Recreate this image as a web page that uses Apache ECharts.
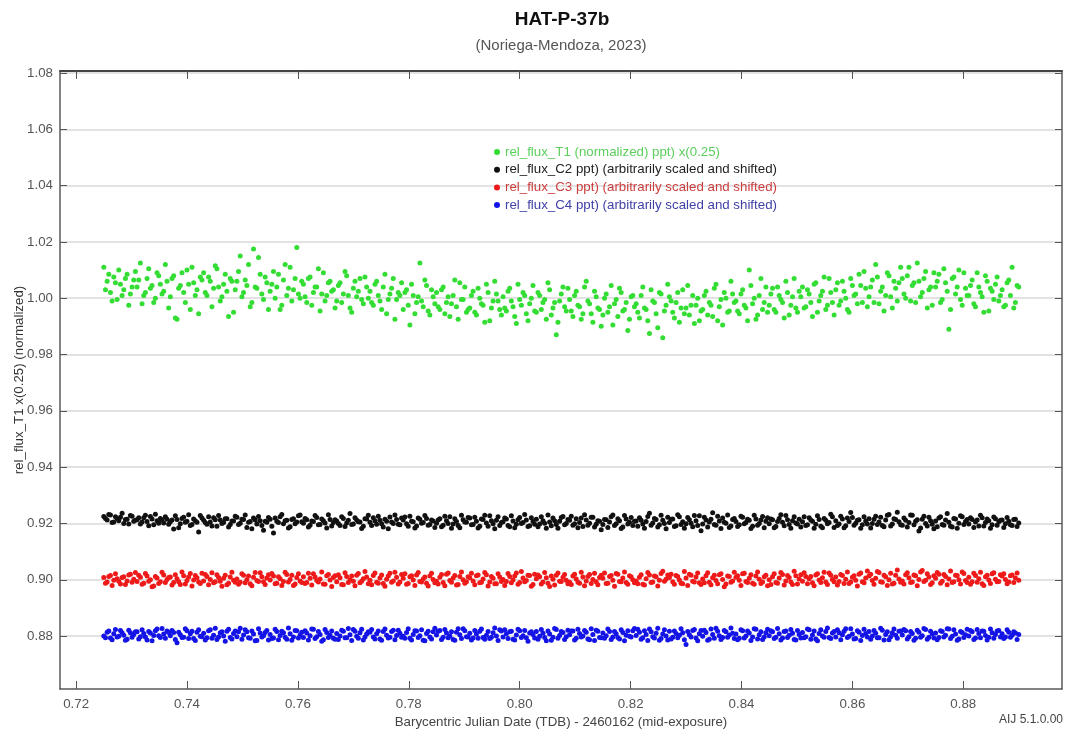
<!DOCTYPE html>
<html><head><meta charset="utf-8">
<script src="https://cdn.jsdelivr.net/npm/echarts@6/dist/echarts.min.js"></script>
<style>html,body{margin:0;padding:0;background:#fff}#c{width:1065px;height:738px}</style>
</head><body><div id="c"></div>
<script>
// Barycentric Julian Date (TDB) - 2460162, exposures of first read-out block
const bjdTimesA = [
0.7250,0.7256,0.7262,0.7268,0.7274,0.7280,0.7286,0.7292,0.7298,0.7304,
0.7310,0.7316,0.7322,0.7328,0.7334,0.7340,0.7346,0.7352,0.7358,0.7364,
0.7370,0.7376,0.7382,0.7388,0.7394,0.7400,0.7406,0.7412,0.7418,0.7424,
0.7430,0.7436,0.7442,0.7448,0.7454,0.7460,0.7466,0.7472,0.7478,0.7484,
0.7490,0.7496,0.7502,0.7508,0.7514,0.7520,0.7526,0.7532,0.7538,0.7544,
0.7550,0.7556,0.7562,0.7568,0.7574,0.7580,0.7586,0.7592,0.7598,0.7604,
0.7610,0.7616,0.7622,0.7628,0.7634,0.7640,0.7646,0.7652,0.7658,0.7664,
0.7670,0.7676,0.7682,0.7688,0.7694,0.7700,0.7706,0.7712,0.7718,0.7724,
0.7730,0.7736,0.7742,0.7748,0.7754,0.7760,0.7766,0.7772,0.7778,0.7784,
0.7790,0.7796,0.7802,0.7808,0.7814,0.7820,0.7826,0.7832,0.7838,0.7844,
0.7850,0.7856,0.7862,0.7868,0.7874,0.7880,0.7886,0.7892,0.7898,0.7904,
0.7910,0.7916,0.7922,0.7928,0.7934,0.7940,0.7946,0.7952,0.7958,0.7964,
0.7970,0.7976,0.7982,0.7988,0.7994,0.8000,0.8006,0.8012,0.8018,0.8024,
0.8030,0.8036,0.8042,0.8048,0.8054,0.8060,0.8066,0.8072,0.8078,0.8084,
0.8090,0.8096,0.8102,0.8108,0.8114,0.8120,0.8126,0.8132,0.8138,0.8144,
0.8150,0.8156,0.8162,0.8168,0.8174,0.8180,0.8186,0.8192,0.8198,0.8204,
0.8210,0.8216,0.8222,0.8228,0.8234,0.8240,0.8246,0.8252,0.8258,0.8264,
0.8270,0.8276,0.8282,0.8288,0.8294,0.8300,0.8306,0.8312,0.8318,0.8324,
0.8330,0.8336,0.8342,0.8348,0.8354,0.8360,0.8366,0.8372,0.8378,0.8384,
0.8390,0.8396,0.8402,0.8408,0.8414,0.8420,0.8426,0.8432,0.8438,0.8444,
0.8450,0.8456,0.8462,0.8468,0.8474,0.8480,0.8486,0.8492,0.8498,0.8504,
0.8510,0.8516,0.8522,0.8528,0.8534,0.8540,0.8546,0.8552,0.8558,0.8564,
0.8570,0.8576,0.8582,0.8588,0.8594,0.8600,0.8606,0.8612,0.8618,0.8624,
0.8630,0.8636,0.8642,0.8648,0.8654,0.8660,0.8666,0.8672,0.8678,0.8684,
0.8690,0.8696,0.8702,0.8708,0.8714,0.8720,0.8726,0.8732,0.8738,0.8744,
0.8750,0.8756,0.8762,0.8768,0.8774,0.8780,0.8786,0.8792,0.8798,0.8804,
0.8810,0.8816,0.8822,0.8828,0.8834,0.8840,0.8846,0.8852,0.8858,0.8864,
0.8870,0.8876,0.8882,0.8888,0.8894,0.8900
];
// interleaved exposures
const bjdTimesB = [
0.7253,0.7259,0.7265,0.7271,0.7277,0.7283,0.7289,0.7295,0.7301,0.7307,
0.7313,0.7319,0.7325,0.7331,0.7337,0.7343,0.7349,0.7355,0.7361,0.7367,
0.7373,0.7379,0.7385,0.7391,0.7397,0.7403,0.7409,0.7415,0.7421,0.7427,
0.7433,0.7439,0.7445,0.7451,0.7457,0.7463,0.7469,0.7475,0.7481,0.7487,
0.7493,0.7499,0.7505,0.7511,0.7517,0.7523,0.7529,0.7535,0.7541,0.7547,
0.7553,0.7559,0.7565,0.7571,0.7577,0.7583,0.7589,0.7595,0.7601,0.7607,
0.7613,0.7619,0.7625,0.7631,0.7637,0.7643,0.7649,0.7655,0.7661,0.7667,
0.7673,0.7679,0.7685,0.7691,0.7697,0.7703,0.7709,0.7715,0.7721,0.7727,
0.7733,0.7739,0.7745,0.7751,0.7757,0.7763,0.7769,0.7775,0.7781,0.7787,
0.7793,0.7799,0.7805,0.7811,0.7817,0.7823,0.7829,0.7835,0.7841,0.7847,
0.7853,0.7859,0.7865,0.7871,0.7877,0.7883,0.7889,0.7895,0.7901,0.7907,
0.7913,0.7919,0.7925,0.7931,0.7937,0.7943,0.7949,0.7955,0.7961,0.7967,
0.7973,0.7979,0.7985,0.7991,0.7997,0.8003,0.8009,0.8015,0.8021,0.8027,
0.8033,0.8039,0.8045,0.8051,0.8057,0.8063,0.8069,0.8075,0.8081,0.8087,
0.8093,0.8099,0.8105,0.8111,0.8117,0.8123,0.8129,0.8135,0.8141,0.8147,
0.8153,0.8159,0.8165,0.8171,0.8177,0.8183,0.8189,0.8195,0.8201,0.8207,
0.8213,0.8219,0.8225,0.8231,0.8237,0.8243,0.8249,0.8255,0.8261,0.8267,
0.8273,0.8279,0.8285,0.8291,0.8297,0.8303,0.8309,0.8315,0.8321,0.8327,
0.8333,0.8339,0.8345,0.8351,0.8357,0.8363,0.8369,0.8375,0.8381,0.8387,
0.8393,0.8399,0.8405,0.8411,0.8417,0.8423,0.8429,0.8435,0.8441,0.8447,
0.8453,0.8459,0.8465,0.8471,0.8477,0.8483,0.8489,0.8495,0.8501,0.8507,
0.8513,0.8519,0.8525,0.8531,0.8537,0.8543,0.8549,0.8555,0.8561,0.8567,
0.8573,0.8579,0.8585,0.8591,0.8597,0.8603,0.8609,0.8615,0.8621,0.8627,
0.8633,0.8639,0.8645,0.8651,0.8657,0.8663,0.8669,0.8675,0.8681,0.8687,
0.8693,0.8699,0.8705,0.8711,0.8717,0.8723,0.8729,0.8735,0.8741,0.8747,
0.8753,0.8759,0.8765,0.8771,0.8777,0.8783,0.8789,0.8795,0.8801,0.8807,
0.8813,0.8819,0.8825,0.8831,0.8837,0.8843,0.8849,0.8855,0.8861,0.8867,
0.8873,0.8879,0.8885,0.8891,0.8897
];

// rel_flux_T1 (normalized) x(0.25)
const fluxT1A = [
1.0110,1.0060,1.0020,1.0075,0.9995,1.0050,1.0030,1.0085,1.0015,1.0065,
1.0040,1.0125,1.0010,1.0070,1.0035,0.9985,1.0090,1.0050,1.0025,1.0060,
1.0005,1.0080,0.9925,1.0045,1.0020,1.0100,0.9960,1.0055,1.0030,1.0075,
1.0090,1.0010,1.0060,1.0035,1.0105,0.9990,1.0050,1.0025,1.0070,0.9950,
1.0060,1.0150,1.0020,1.0045,0.9970,1.0175,1.0035,1.0085,0.9995,1.0055,
1.0025,1.0095,1.0040,0.9960,1.0065,1.0010,1.0110,1.0030,1.0180,1.0000,
1.0050,0.9985,1.0075,1.0020,1.0040,0.9955,1.0090,1.0010,1.0060,1.0030,
0.9990,1.0055,1.0015,1.0080,0.9965,1.0035,1.0005,1.0070,0.9980,1.0040,
1.0025,0.9975,1.0060,0.9990,1.0040,0.9945,1.0015,1.0070,0.9995,1.0010,
0.9960,1.0030,0.9905,1.0010,0.9985,1.0125,0.9970,1.0045,0.9940,1.0005,
1.0020,0.9960,1.0040,0.9985,0.9935,1.0010,0.9970,1.0055,0.9995,0.9950,
0.9965,1.0025,0.9940,1.0000,0.9975,1.0050,0.9920,0.9990,1.0015,0.9960,
1.0005,0.9955,1.0035,0.9970,0.9910,0.9995,1.0020,0.9945,0.9980,1.0045,
0.9950,1.0010,0.9985,0.9925,1.0030,0.9965,0.9870,0.9990,1.0040,0.9955,
0.9995,0.9935,1.0025,0.9970,0.9945,1.0060,0.9980,0.9915,1.0005,0.9960,
0.9940,1.0015,0.9970,0.9905,0.9995,1.0035,0.9955,0.9985,0.9925,1.0010,
0.9980,0.9930,1.0040,0.9960,0.9875,0.9990,0.9945,1.0020,0.9860,0.9975,
1.0005,0.9950,0.9985,0.9915,1.0030,0.9965,0.9940,1.0010,0.9975,0.9920,
0.9960,1.0025,0.9985,0.9935,1.0050,0.9970,0.9905,1.0000,0.9955,1.0015,
0.9990,0.9945,1.0030,0.9965,1.0100,0.9980,0.9925,1.0010,0.9960,1.0040,
0.9975,1.0035,0.9950,1.0010,0.9985,1.0060,0.9940,1.0005,0.9965,1.0025,
1.0040,0.9970,1.0015,0.9935,1.0055,0.9990,1.0025,0.9960,1.0070,0.9985,
1.0030,0.9975,1.0060,1.0000,0.9950,1.0045,1.0015,1.0085,0.9985,1.0035,
1.0005,1.0065,1.0120,0.9980,1.0040,1.0010,1.0080,0.9965,1.0035,1.0055,
1.0070,1.0000,1.0110,1.0045,0.9985,1.0060,1.0020,1.0095,1.0030,0.9975,
1.0040,1.0085,0.9995,1.0055,0.9890,1.0070,1.0015,1.0100,0.9975,1.0035,
1.0010,1.0065,0.9970,1.0040,1.0005,1.0080,0.9955,1.0025,1.0050,0.9990,
1.0030,0.9975,1.0065,1.0110,0.9985,1.0040
];
const fluxT1B = [
1.0030,1.0085,0.9990,1.0055,1.0100,1.0010,1.0070,0.9975,1.0040,1.0095,
1.0065,0.9980,1.0020,1.0105,1.0045,1.0000,1.0080,1.0015,1.0120,0.9965,
1.0070,0.9930,1.0035,1.0090,0.9985,1.0050,1.0110,1.0010,0.9945,1.0065,
1.0020,1.0075,0.9970,1.0115,1.0040,1.0005,1.0085,0.9935,1.0060,1.0030,
1.0095,1.0005,1.0065,1.0120,0.9985,1.0040,1.0145,1.0015,1.0075,0.9960,
1.0050,1.0000,1.0085,0.9975,1.0120,1.0035,0.9990,1.0070,1.0015,1.0060,
1.0005,1.0070,0.9975,1.0040,1.0105,1.0015,0.9990,1.0055,1.0025,0.9965,
1.0045,0.9985,1.0095,1.0010,0.9950,1.0060,1.0025,0.9995,1.0075,1.0000,
0.9985,1.0050,1.0010,0.9960,1.0085,0.9995,1.0035,0.9925,1.0020,1.0055,
1.0020,0.9975,1.0050,0.9945,1.0005,0.9990,1.0065,0.9955,1.0030,0.9980,
0.9970,1.0030,0.9945,1.0005,0.9980,1.0065,0.9925,0.9995,1.0040,0.9960,
1.0010,0.9950,1.0035,0.9980,0.9915,1.0020,0.9965,1.0060,0.9990,0.9940,
0.9965,1.0025,0.9990,0.9935,1.0050,0.9975,1.0010,0.9920,1.0000,0.9955,
1.0020,0.9960,0.9995,1.0055,0.9940,0.9985,0.9915,1.0015,0.9970,1.0035,
0.9955,1.0010,0.9975,0.9925,1.0040,0.9990,0.9945,1.0025,0.9965,0.9900,
1.0000,0.9950,1.0045,0.9980,0.9935,1.0020,0.9960,0.9885,1.0005,0.9970,
0.9950,1.0010,0.9965,0.9920,1.0030,0.9985,0.9895,1.0015,0.9955,1.0050,
0.9990,0.9930,1.0020,0.9965,0.9945,1.0045,0.9975,0.9910,1.0000,0.9955,
1.0010,0.9940,0.9975,1.0035,0.9920,0.9995,1.0020,0.9950,1.0060,0.9985,
0.9955,1.0015,0.9975,0.9920,1.0045,1.0000,0.9940,1.0070,0.9985,0.9950,
1.0015,0.9960,1.0040,0.9995,0.9930,1.0020,0.9975,1.0070,0.9950,1.0005,
0.9965,1.0030,0.9985,1.0050,0.9950,1.0010,1.0075,0.9975,1.0020,0.9940,
1.0055,0.9990,1.0025,0.9960,1.0070,1.0010,0.9980,1.0045,1.0095,0.9970,
1.0040,0.9985,1.0075,1.0025,0.9955,1.0090,1.0005,1.0060,0.9990,1.0110,
1.0015,1.0080,0.9990,1.0055,1.0125,1.0005,1.0070,0.9965,1.0040,1.0090,
1.0060,0.9985,1.0105,1.0025,0.9960,1.0075,1.0040,0.9995,1.0090,1.0010,
1.0045,0.9980,1.0090,1.0020,0.9950,1.0060,1.0035,0.9995,1.0075,1.0010,
0.9970,1.0055,1.0010,0.9965,1.0045
];

// rel_flux_C2 ppt (arbitrarily scaled and shifted)
const fluxC2A = [
0.9225,0.9212,0.9230,0.9205,0.9218,0.9222,0.9200,0.9215,0.9228,0.9208,
0.9213,0.9198,0.9220,0.9207,0.9225,0.9195,0.9210,0.9218,0.9202,0.9215,
0.9206,0.9180,0.9214,0.9199,0.9222,0.9208,0.9193,0.9216,0.9204,0.9228,
0.9211,0.9197,0.9205,0.9220,0.9190,0.9212,0.9203,0.9217,0.9196,0.9209,
0.9222,0.9201,0.9214,0.9186,0.9207,0.9219,0.9198,0.9210,0.9176,0.9204,
0.9215,0.9166,0.9208,0.9224,0.9199,0.9211,0.9188,0.9217,0.9205,0.9230,
0.9201,0.9213,0.9194,0.9207,0.9221,0.9196,0.9210,0.9184,0.9214,0.9203,
0.9209,0.9193,0.9218,0.9202,0.9235,0.9198,0.9212,0.9205,0.9190,0.9216,
0.9204,0.9220,0.9197,0.9211,0.9187,0.9208,0.9223,0.9200,0.9214,0.9195,
0.9212,0.9199,0.9226,0.9206,0.9191,0.9215,0.9203,0.9218,0.9196,0.9209,
0.9201,0.9217,0.9194,0.9210,0.9224,0.9198,0.9207,0.9185,0.9213,0.9204,
0.9219,0.9196,0.9208,0.9190,0.9214,0.9202,0.9227,0.9199,0.9211,0.9193,
0.9206,0.9216,0.9188,0.9209,0.9197,0.9221,0.9203,0.9212,0.9192,0.9207,
0.9215,0.9198,0.9210,0.9183,0.9205,0.9219,0.9196,0.9208,0.9225,0.9200,
0.9211,0.9194,0.9217,0.9203,0.9189,0.9212,0.9201,0.9222,0.9197,0.9208,
0.9196,0.9213,0.9205,0.9230,0.9199,0.9210,0.9187,0.9216,0.9204,0.9193,
0.9209,0.9220,0.9198,0.9207,0.9236,0.9202,0.9214,0.9195,0.9211,0.9181,
0.9203,0.9216,0.9192,0.9224,0.9206,0.9199,0.9213,0.9188,0.9210,0.9227,
0.9198,0.9212,0.9205,0.9238,0.9194,0.9209,0.9219,0.9201,0.9186,0.9214,
0.9207,0.9195,0.9222,0.9203,0.9211,0.9190,0.9216,0.9200,0.9225,0.9208,
0.9199,0.9213,0.9189,0.9218,0.9204,0.9228,0.9196,0.9210,0.9202,0.9215,
0.9206,0.9193,0.9220,0.9208,0.9197,0.9214,0.9185,0.9211,0.9203,0.9224,
0.9210,0.9198,0.9216,0.9192,0.9207,0.9221,0.9201,0.9213,0.9195,0.9209,
0.9217,0.9200,0.9226,0.9205,0.9193,0.9212,0.9232,0.9198,0.9214,0.9206,
0.9194,0.9211,0.9203,0.9229,0.9208,0.9173,0.9215,0.9200,0.9222,0.9197,
0.9209,0.9219,0.9196,0.9212,0.9204,0.9187,0.9216,0.9201,0.9224,0.9207,
0.9198,0.9214,0.9205,0.9191,0.9220,0.9203,0.9210,0.9195,0.9217,0.9206,
0.9212,0.9199,0.9208,0.9193,0.9215,0.9202
];
const fluxC2B = [
0.9218,0.9232,0.9203,0.9224,0.9210,0.9236,0.9214,0.9198,0.9226,0.9211,
0.9220,0.9205,0.9229,0.9192,0.9216,0.9233,0.9201,0.9212,0.9224,0.9197,
0.9212,0.9227,0.9185,0.9218,0.9204,0.9231,0.9196,0.9210,0.9170,0.9219,
0.9203,0.9224,0.9191,0.9213,0.9228,0.9200,0.9217,0.9187,0.9209,0.9226,
0.9196,0.9215,0.9230,0.9204,0.9181,0.9212,0.9225,0.9193,0.9208,0.9221,
0.9190,0.9219,0.9203,0.9232,0.9210,0.9184,0.9214,0.9199,0.9227,0.9206,
0.9218,0.9187,0.9209,0.9228,0.9195,0.9216,0.9202,0.9231,0.9191,0.9213,
0.9200,0.9224,0.9189,0.9211,0.9196,0.9220,0.9206,0.9182,0.9217,0.9229,
0.9193,0.9210,0.9226,0.9199,0.9215,0.9181,0.9205,0.9230,0.9197,0.9219,
0.9223,0.9190,0.9208,0.9184,0.9219,0.9201,0.9228,0.9194,0.9212,0.9186,
0.9212,0.9188,0.9226,0.9200,0.9183,0.9217,0.9193,0.9229,0.9205,0.9221,
0.9195,0.9222,0.9184,0.9216,0.9229,0.9190,0.9210,0.9181,0.9224,0.9203,
0.9219,0.9193,0.9227,0.9185,0.9213,0.9200,0.9232,0.9189,0.9220,0.9197,
0.9188,0.9224,0.9201,0.9230,0.9192,0.9210,0.9183,0.9221,0.9195,0.9214,
0.9226,0.9199,0.9185,0.9219,0.9231,0.9194,0.9222,0.9187,0.9210,0.9178,
0.9214,0.9186,0.9224,0.9193,0.9217,0.9182,0.9228,0.9198,0.9221,0.9208,
0.9190,0.9211,0.9183,0.9225,0.9194,0.9218,0.9187,0.9229,0.9200,0.9222,
0.9215,0.9189,0.9231,0.9196,0.9183,0.9221,0.9201,0.9228,0.9193,0.9174,
0.9222,0.9187,0.9215,0.9196,0.9226,0.9182,0.9204,0.9230,0.9191,0.9218,
0.9189,0.9226,0.9199,0.9215,0.9182,0.9229,0.9194,0.9212,0.9185,0.9220,
0.9216,0.9185,0.9207,0.9231,0.9192,0.9213,0.9183,0.9224,0.9198,0.9187,
0.9224,0.9195,0.9212,0.9183,0.9227,0.9190,0.9218,0.9199,0.9233,0.9186,
0.9193,0.9226,0.9185,0.9219,0.9239,0.9194,0.9211,0.9183,0.9224,0.9198,
0.9184,0.9215,0.9196,0.9222,0.9188,0.9229,0.9191,0.9217,0.9240,0.9195,
0.9219,0.9187,0.9230,0.9195,0.9213,0.9184,0.9226,0.9191,0.9210,0.9181,
0.9188,0.9224,0.9194,0.9235,0.9190,0.9218,0.9183,0.9227,0.9196,0.9214,
0.9220,0.9186,0.9212,0.9229,0.9191,0.9216,0.9183,0.9223,0.9194,0.9211,
0.9186,0.9221,0.9195,0.9214,0.9189
];

// rel_flux_C3 ppt (arbitrarily scaled and shifted)
const fluxC3A = [
0.9008,0.8992,0.9015,0.8998,0.9004,0.8985,0.9011,0.8996,0.9020,0.9002,
0.8994,0.9009,0.8988,0.9013,0.9000,0.8978,0.9006,0.8993,0.9017,0.9001,
0.9010,0.8990,0.9004,0.8983,0.9014,0.8997,0.9022,0.8999,0.9007,0.8987,
0.8996,0.9012,0.9001,0.8989,0.9018,0.8995,0.9005,0.8982,0.9010,0.8998,
0.9003,0.8991,0.9016,0.9000,0.8986,0.9009,0.8997,0.9025,0.8993,0.9006,
0.8999,0.9013,0.8988,0.9004,0.8994,0.9019,0.9001,0.8980,0.9008,0.8996,
0.9011,0.8990,0.9005,0.9021,0.8997,0.9003,0.8985,0.9014,0.8999,0.9008,
0.8993,0.9007,0.8982,0.9012,0.9000,0.8995,0.9016,0.8989,0.9004,0.9010,
0.8998,0.9015,0.8991,0.9006,0.8987,0.9002,0.9023,0.8996,0.9009,0.8992,
0.9005,0.8984,0.9011,0.8999,0.9017,0.8994,0.9003,0.8988,0.9013,0.9001,
0.8995,0.9009,0.8990,0.9020,0.8997,0.9006,0.8981,0.9012,0.9000,0.8993,
0.9007,0.8996,0.9014,0.8989,0.9003,0.9018,0.8992,0.9005,0.8986,0.9010,
0.9001,0.8994,0.9012,0.8999,0.9024,0.8990,0.9006,0.8997,0.9015,0.8983,
0.9004,0.9011,0.8992,0.9007,0.8976,0.9002,0.9016,0.8995,0.9009,0.8998,
0.8991,0.9013,0.9003,0.8988,0.9010,0.8996,0.9019,0.9001,0.8993,0.9008,
0.9005,0.8987,0.9012,0.8998,0.9022,0.8994,0.9006,0.8990,0.9014,0.9000,
0.8996,0.9009,0.8984,0.9004,0.9017,0.8992,0.9011,0.8998,0.9030,0.9002,
0.9008,0.8993,0.9015,0.8999,0.8986,0.9006,0.9020,0.8995,0.9010,0.8989,
0.9003,0.9014,0.8991,0.9007,0.8997,0.9018,0.9001,0.8985,0.9012,0.8996,
0.9009,0.8998,0.9021,0.8994,0.9005,0.8988,0.9013,0.9002,0.8992,0.9016,
0.9000,0.9011,0.8990,0.9006,0.9019,0.8996,0.9008,0.8983,0.9014,0.9003,
0.8995,0.9012,0.9004,0.8989,0.9017,0.8999,0.9007,0.8992,0.9024,0.9001,
0.9010,0.8994,0.9015,0.9002,0.8987,0.9009,0.8998,0.9020,0.8993,0.9006,
0.9013,0.8997,0.9005,0.9026,0.8991,0.9011,0.9000,0.8985,0.9016,0.9003,
0.8996,0.9018,0.9007,0.8992,0.9014,0.9001,0.9033,0.8998,0.9010,0.8989,
0.9005,0.9020,0.8995,0.9012,0.9003,0.8990,0.9016,0.9000,0.9028,0.8997,
0.9009,0.8993,0.9015,0.9004,0.8986,0.9011,0.8999,0.9021,0.9002,0.8994,
0.9013,0.9001,0.8992,0.9017,0.9006,0.8998
];
const fluxC3B = [
0.8988,0.9012,0.8980,0.9021,0.8995,0.9008,0.8983,0.9017,0.8991,0.9026,
0.9016,0.8984,0.9022,0.8995,0.8975,0.9012,0.8987,0.9027,0.8990,0.9008,
0.8981,0.9018,0.8993,0.9028,0.8985,0.9010,0.8978,0.9015,0.8992,0.9023,
0.9019,0.8982,0.9025,0.8993,0.9008,0.8977,0.9016,0.8988,0.9027,0.8991,
0.8984,0.9021,0.8989,0.9013,0.8979,0.9026,0.8994,0.9011,0.8983,0.9018,
0.9022,0.8986,0.9011,0.8980,0.9027,0.8992,0.9016,0.8985,0.9021,0.8990,
0.8987,0.9023,0.8981,0.9010,0.8992,0.9028,0.8984,0.9019,0.8976,0.9014,
0.9018,0.8983,0.9025,0.8990,0.9013,0.8979,0.9022,0.8995,0.9029,0.8986,
0.8982,0.9024,0.8988,0.9017,0.8977,0.9013,0.8991,0.9027,0.8985,0.9019,
0.9021,0.8987,0.9014,0.8980,0.9026,0.8992,0.9010,0.8978,0.9023,0.8989,
0.8985,0.9019,0.8979,0.9024,0.8991,0.9015,0.8983,0.9028,0.8988,0.9011,
0.9023,0.8982,0.9017,0.8991,0.9026,0.8978,0.9012,0.8986,0.9021,0.8994,
0.8980,0.9022,0.8989,0.9013,0.8984,0.9029,0.8993,0.9016,0.8977,0.9020,
0.9017,0.8985,0.9026,0.8988,0.9013,0.8981,0.9024,0.8994,0.9019,0.8986,
0.8983,0.9020,0.8991,0.9027,0.8979,0.9012,0.8987,0.9023,0.8982,0.9016,
0.9024,0.8988,0.9015,0.8977,0.9020,0.8993,0.9028,0.8984,0.9011,0.8989,
0.8986,0.9018,0.8981,0.9026,0.8990,0.9013,0.8978,0.9022,0.8995,0.9017,
0.9020,0.8984,0.9012,0.8988,0.9029,0.8980,0.9016,0.8992,0.9024,0.8983,
0.8989,0.9025,0.8982,0.9016,0.8986,0.9021,0.8975,0.9013,0.8991,0.9027,
0.9014,0.8980,0.9023,0.8990,0.9018,0.8984,0.9028,0.8987,0.9011,0.8979,
0.8983,0.9021,0.8988,0.9026,0.8981,0.9015,0.8992,0.9030,0.8985,0.9018,
0.9025,0.8986,0.9012,0.8979,0.9021,0.8990,0.9027,0.8983,0.9016,0.8993,
0.8981,0.9019,0.8987,0.9028,0.8992,0.9014,0.8978,0.9024,0.8989,0.9031,
0.9020,0.8984,0.9029,0.8993,0.9016,0.8980,0.9023,0.8988,0.9035,0.8991,
0.8985,0.9025,0.8990,0.9017,0.8979,0.9028,0.8994,0.9021,0.8983,0.9014,
0.9026,0.8988,0.9019,0.8982,0.9031,0.8993,0.9015,0.8985,0.9022,0.8990,
0.8984,0.9023,0.8991,0.9027,0.8980,0.9016,0.8987,0.9025,0.8993,0.9018,
0.9021,0.8986,0.9014,0.8990,0.9024
];

// rel_flux_C4 ppt (arbitrarily scaled and shifted)
const fluxC4A = [
0.8800,0.8814,0.8793,0.8808,0.8797,0.8820,0.8803,0.8789,0.8812,0.8806,
0.8815,0.8798,0.8809,0.8786,0.8811,0.8802,0.8825,0.8795,0.8807,0.8818,
0.8801,0.8813,0.8776,0.8805,0.8796,0.8819,0.8808,0.8791,0.8814,0.8799,
0.8810,0.8794,0.8822,0.8803,0.8788,0.8812,0.8800,0.8817,0.8795,0.8809,
0.8798,0.8828,0.8804,0.8815,0.8792,0.8807,0.8784,0.8811,0.8801,0.8820,
0.8806,0.8793,0.8816,0.8802,0.8812,0.8789,0.8808,0.8797,0.8819,0.8804,
0.8795,0.8811,0.8801,0.8824,0.8798,0.8806,0.8787,0.8813,0.8803,0.8792,
0.8809,0.8800,0.8817,0.8794,0.8805,0.8823,0.8799,0.8812,0.8786,0.8807,
0.8814,0.8797,0.8808,0.8790,0.8816,0.8803,0.8796,0.8821,0.8802,0.8810,
0.8799,0.8813,0.8792,0.8806,0.8818,0.8801,0.8785,0.8809,0.8797,0.8815,
0.8804,0.8820,0.8796,0.8811,0.8800,0.8788,0.8814,0.8805,0.8826,0.8798,
0.8810,0.8793,0.8807,0.8817,0.8795,0.8803,0.8791,0.8812,0.8800,0.8822,
0.8797,0.8808,0.8815,0.8789,0.8804,0.8819,0.8801,0.8794,0.8811,0.8806,
0.8816,0.8799,0.8810,0.8783,0.8807,0.8796,0.8823,0.8802,0.8813,0.8798,
0.8805,0.8818,0.8792,0.8809,0.8800,0.8814,0.8787,0.8806,0.8821,0.8795,
0.8811,0.8801,0.8816,0.8797,0.8808,0.8790,0.8813,0.8803,0.8799,0.8819,
0.8802,0.8814,0.8794,0.8806,0.8825,0.8798,0.8810,0.8785,0.8807,0.8800,
0.8817,0.8796,0.8809,0.8803,0.8812,0.8770,0.8805,0.8820,0.8793,0.8808,
0.8799,0.8813,0.8789,0.8806,0.8828,0.8801,0.8795,0.8815,0.8804,0.8810,
0.8807,0.8792,0.8819,0.8800,0.8811,0.8797,0.8824,0.8805,0.8788,0.8812,
0.8801,0.8815,0.8796,0.8808,0.8793,0.8818,0.8803,0.8810,0.8786,0.8806,
0.8813,0.8798,0.8822,0.8804,0.8790,0.8809,0.8800,0.8816,0.8795,0.8811,
0.8797,0.8812,0.8805,0.8826,0.8799,0.8807,0.8791,0.8814,0.8802,0.8809,
0.8816,0.8800,0.8810,0.8794,0.8821,0.8806,0.8787,0.8812,0.8803,0.8817,
0.8804,0.8819,0.8798,0.8809,0.8792,0.8814,0.8801,0.8823,0.8796,0.8808,
0.8811,0.8795,0.8816,0.8803,0.8825,0.8799,0.8807,0.8790,0.8813,0.8805,
0.8800,0.8815,0.8793,0.8809,0.8818,0.8802,0.8796,0.8812,0.8806,0.8820,
0.8808,0.8797,0.8814,0.8803,0.8811,0.8806
];
const fluxC4B = [
0.8794,0.8818,0.8787,0.8823,0.8799,0.8812,0.8785,0.8821,0.8796,0.8815,
0.8790,0.8822,0.8797,0.8816,0.8783,0.8819,0.8801,0.8827,0.8792,0.8813,
0.8820,0.8788,0.8814,0.8795,0.8826,0.8791,0.8817,0.8784,0.8822,0.8798,
0.8786,0.8819,0.8792,0.8828,0.8797,0.8815,0.8782,0.8824,0.8790,0.8818,
0.8815,0.8789,0.8822,0.8794,0.8818,0.8783,0.8826,0.8797,0.8813,0.8786,
0.8791,0.8824,0.8787,0.8817,0.8796,0.8829,0.8785,0.8820,0.8793,0.8814,
0.8819,0.8786,0.8825,0.8791,0.8816,0.8782,0.8823,0.8795,0.8818,0.8789,
0.8788,0.8821,0.8794,0.8827,0.8784,0.8817,0.8792,0.8824,0.8797,0.8815,
0.8823,0.8790,0.8818,0.8785,0.8825,0.8793,0.8816,0.8787,0.8821,0.8796,
0.8792,0.8826,0.8786,0.8819,0.8795,0.8822,0.8783,0.8817,0.8790,0.8828,
0.8817,0.8788,0.8823,0.8794,0.8815,0.8785,0.8826,0.8791,0.8819,0.8797,
0.8786,0.8820,0.8792,0.8825,0.8789,0.8816,0.8796,0.8829,0.8784,0.8818,
0.8822,0.8791,0.8817,0.8786,0.8824,0.8795,0.8820,0.8782,0.8815,0.8793,
0.8789,0.8823,0.8795,0.8818,0.8785,0.8827,0.8792,0.8816,0.8788,0.8821,
0.8818,0.8786,0.8824,0.8797,0.8820,0.8790,0.8826,0.8784,0.8817,0.8794,
0.8792,0.8825,0.8788,0.8816,0.8795,0.8822,0.8783,0.8819,0.8797,0.8827,
0.8824,0.8789,0.8819,0.8784,0.8815,0.8793,0.8828,0.8791,0.8822,0.8786,
0.8790,0.8818,0.8794,0.8826,0.8787,0.8816,0.8797,0.8823,0.8783,0.8820,
0.8821,0.8785,0.8825,0.8792,0.8817,0.8788,0.8820,0.8796,0.8829,0.8791,
0.8787,0.8822,0.8793,0.8818,0.8784,0.8826,0.8790,0.8815,0.8797,0.8824,
0.8819,0.8791,0.8827,0.8786,0.8816,0.8795,0.8823,0.8788,0.8820,0.8793,
0.8794,0.8825,0.8789,0.8818,0.8783,0.8822,0.8796,0.8829,0.8791,0.8816,
0.8822,0.8787,0.8817,0.8795,0.8826,0.8790,0.8819,0.8784,0.8824,0.8797,
0.8789,0.8820,0.8794,0.8828,0.8786,0.8815,0.8798,0.8825,0.8792,0.8818,
0.8823,0.8790,0.8816,0.8785,0.8821,0.8796,0.8827,0.8789,0.8817,0.8793,
0.8787,0.8819,0.8797,0.8826,0.8791,0.8822,0.8785,0.8816,0.8795,0.8824,
0.8820,0.8788,0.8823,0.8794,0.8817,0.8786,0.8825,0.8792,0.8818,0.8797,
0.8791,0.8822,0.8796,0.8815,0.8788
];

const seriesNames = [
  'rel_flux_T1 (normalized) ppt) x(0.25)',
  'rel_flux_C2 ppt) (arbitrarily scaled and shifted)',
  'rel_flux_C3 ppt) (arbitrarily scaled and shifted)',
  'rel_flux_C4 ppt) (arbitrarily scaled and shifted)'
];
const xTickValues = [0.72, 0.74, 0.76, 0.78, 0.80, 0.82, 0.84, 0.86, 0.88];
const yTickValues = [0.88, 0.90, 0.92, 0.94, 0.96, 0.98, 1.00, 1.02, 1.04, 1.06, 1.08];
const chartTitle = 'HAT-P-37b';
const chartSubtitle = '(Noriega-Mendoza, 2023)';
const xAxisName = 'Barycentric Julian Date (TDB) - 2460162 (mid-exposure)';
const yAxisName = 'rel_flux_T1 x(0.25) (normalized)';
const versionText = 'AIJ 5.1.0.00';

const FONT = '"Liberation Sans", Arial, sans-serif';
const FS = 13.3;
const markerColors = ['#33dd33', '#111111', '#ee1a1a', '#1414e6'];
const legendTextColors = ['#5ccf5c', '#222222', '#cc3d3d', '#4040a8'];

function pairs(valsA, valsB) {
  const out = bjdTimesA.map((t, i) => [t, valsA[i]]);
  bjdTimesB.forEach((t, i) => out.push([t, valsB[i]]));
  return out;
}
const allFlux = [[fluxT1A, fluxT1B], [fluxC2A, fluxC2B], [fluxC3A, fluxC3B], [fluxC4A, fluxC4B]];

const chart = echarts.init(document.getElementById('c'), null, {renderer: 'canvas'});
const fmt = v => v.toFixed(2);
const axisLineStyle = {color: '#5a5a5a', width: 1.5};
const X_MIN = 0.7171, X_MAX = 0.8978, Y_MIN = 0.8612, Y_MAX = 1.0807;

chart.setOption({
  animation: false,
  backgroundColor: '#ffffff',
  textStyle: {fontFamily: FONT},
  legend: {
    orient: 'vertical',
    left: 489,
    top: 139,
    itemWidth: 6,
    itemHeight: 6,
    itemGap: 1.7,
    icon: 'circle',
    selectedMode: false,
    textStyle: {fontFamily: FONT, fontSize: FS, lineHeight: 16},
    data: seriesNames.map((n, i) => ({name: n, textStyle: {color: legendTextColors[i]}}))
  },
  grid: {left: 60, top: 71, right: 3, bottom: 49, containLabel: false, outerBoundsMode: 'none'},
  xAxis: [{
    type: 'value', position: 'bottom', min: X_MIN, max: X_MAX,
    axisLine: {show: true, onZero: false, lineStyle: axisLineStyle},
    axisTick: {show: true, inside: true, length: 8, customValues: xTickValues, lineStyle: {color: '#555'}},
    axisLabel: {customValues: xTickValues, formatter: fmt, color: '#555', fontSize: FS, fontFamily: FONT, margin: 9},
    splitLine: {show: false},
    name: xAxisName,
    nameLocation: 'middle', nameGap: 27, nameMoveOverlap: false,
    nameTextStyle: {color: '#444', fontSize: FS, fontFamily: FONT}
  }, {
    type: 'value', position: 'top', min: X_MIN, max: X_MAX,
    axisLine: {show: true, onZero: false, lineStyle: {color: '#444', width: 2}},
    axisTick: {show: true, inside: true, length: 8, customValues: xTickValues, lineStyle: {color: '#555'}},
    axisLabel: {show: false},
    splitLine: {show: false}
  }],
  yAxis: [{
    type: 'value', position: 'left', min: Y_MIN, max: Y_MAX,
    axisLine: {show: true, onZero: false, lineStyle: axisLineStyle},
    axisTick: {show: true, inside: true, length: 7, customValues: yTickValues, lineStyle: {color: '#555'}},
    axisLabel: {customValues: yTickValues, formatter: fmt, color: '#555', fontSize: FS, fontFamily: FONT, margin: 7},
    splitLine: {show: true, lineStyle: {color: '#d9d9d9', width: 1.5}},
    name: yAxisName,
    nameLocation: 'middle', nameGap: 34, nameMoveOverlap: false,
    nameTextStyle: {color: '#333', fontSize: FS, fontFamily: FONT}
  }, {
    type: 'value', position: 'right', min: Y_MIN, max: Y_MAX,
    axisLine: {show: true, onZero: false, lineStyle: axisLineStyle},
    axisTick: {show: true, inside: true, length: 7, customValues: yTickValues, lineStyle: {color: '#555'}},
    axisLabel: {show: false},
    splitLine: {show: false}
  }],
  graphic: [{
    type: 'text', x: 562, y: 20,
    style: {text: chartTitle, fill: '#111', font: 'bold 19px ' + FONT, textAlign: 'center', textVerticalAlign: 'middle'}
  }, {
    type: 'text', x: 561, y: 46,
    style: {text: chartSubtitle, fill: '#555', font: '15px ' + FONT, textAlign: 'center', textVerticalAlign: 'middle'}
  }, {
    type: 'text', x: 1063, y: 720,
    style: {text: versionText, fill: '#444', font: '12px ' + FONT, textAlign: 'right', textVerticalAlign: 'middle'}
  }],
  series: allFlux.map((vals, i) => ({
    name: seriesNames[i],
    type: 'scatter',
    xAxisIndex: 0, yAxisIndex: 0,
    symbol: 'circle',
    symbolSize: 5,
    itemStyle: {color: markerColors[i], opacity: 1},
    emphasis: {disabled: true},
    data: pairs(vals[0], vals[1]),
    z: 4 - i
  }))
});
</script>
</body></html>
